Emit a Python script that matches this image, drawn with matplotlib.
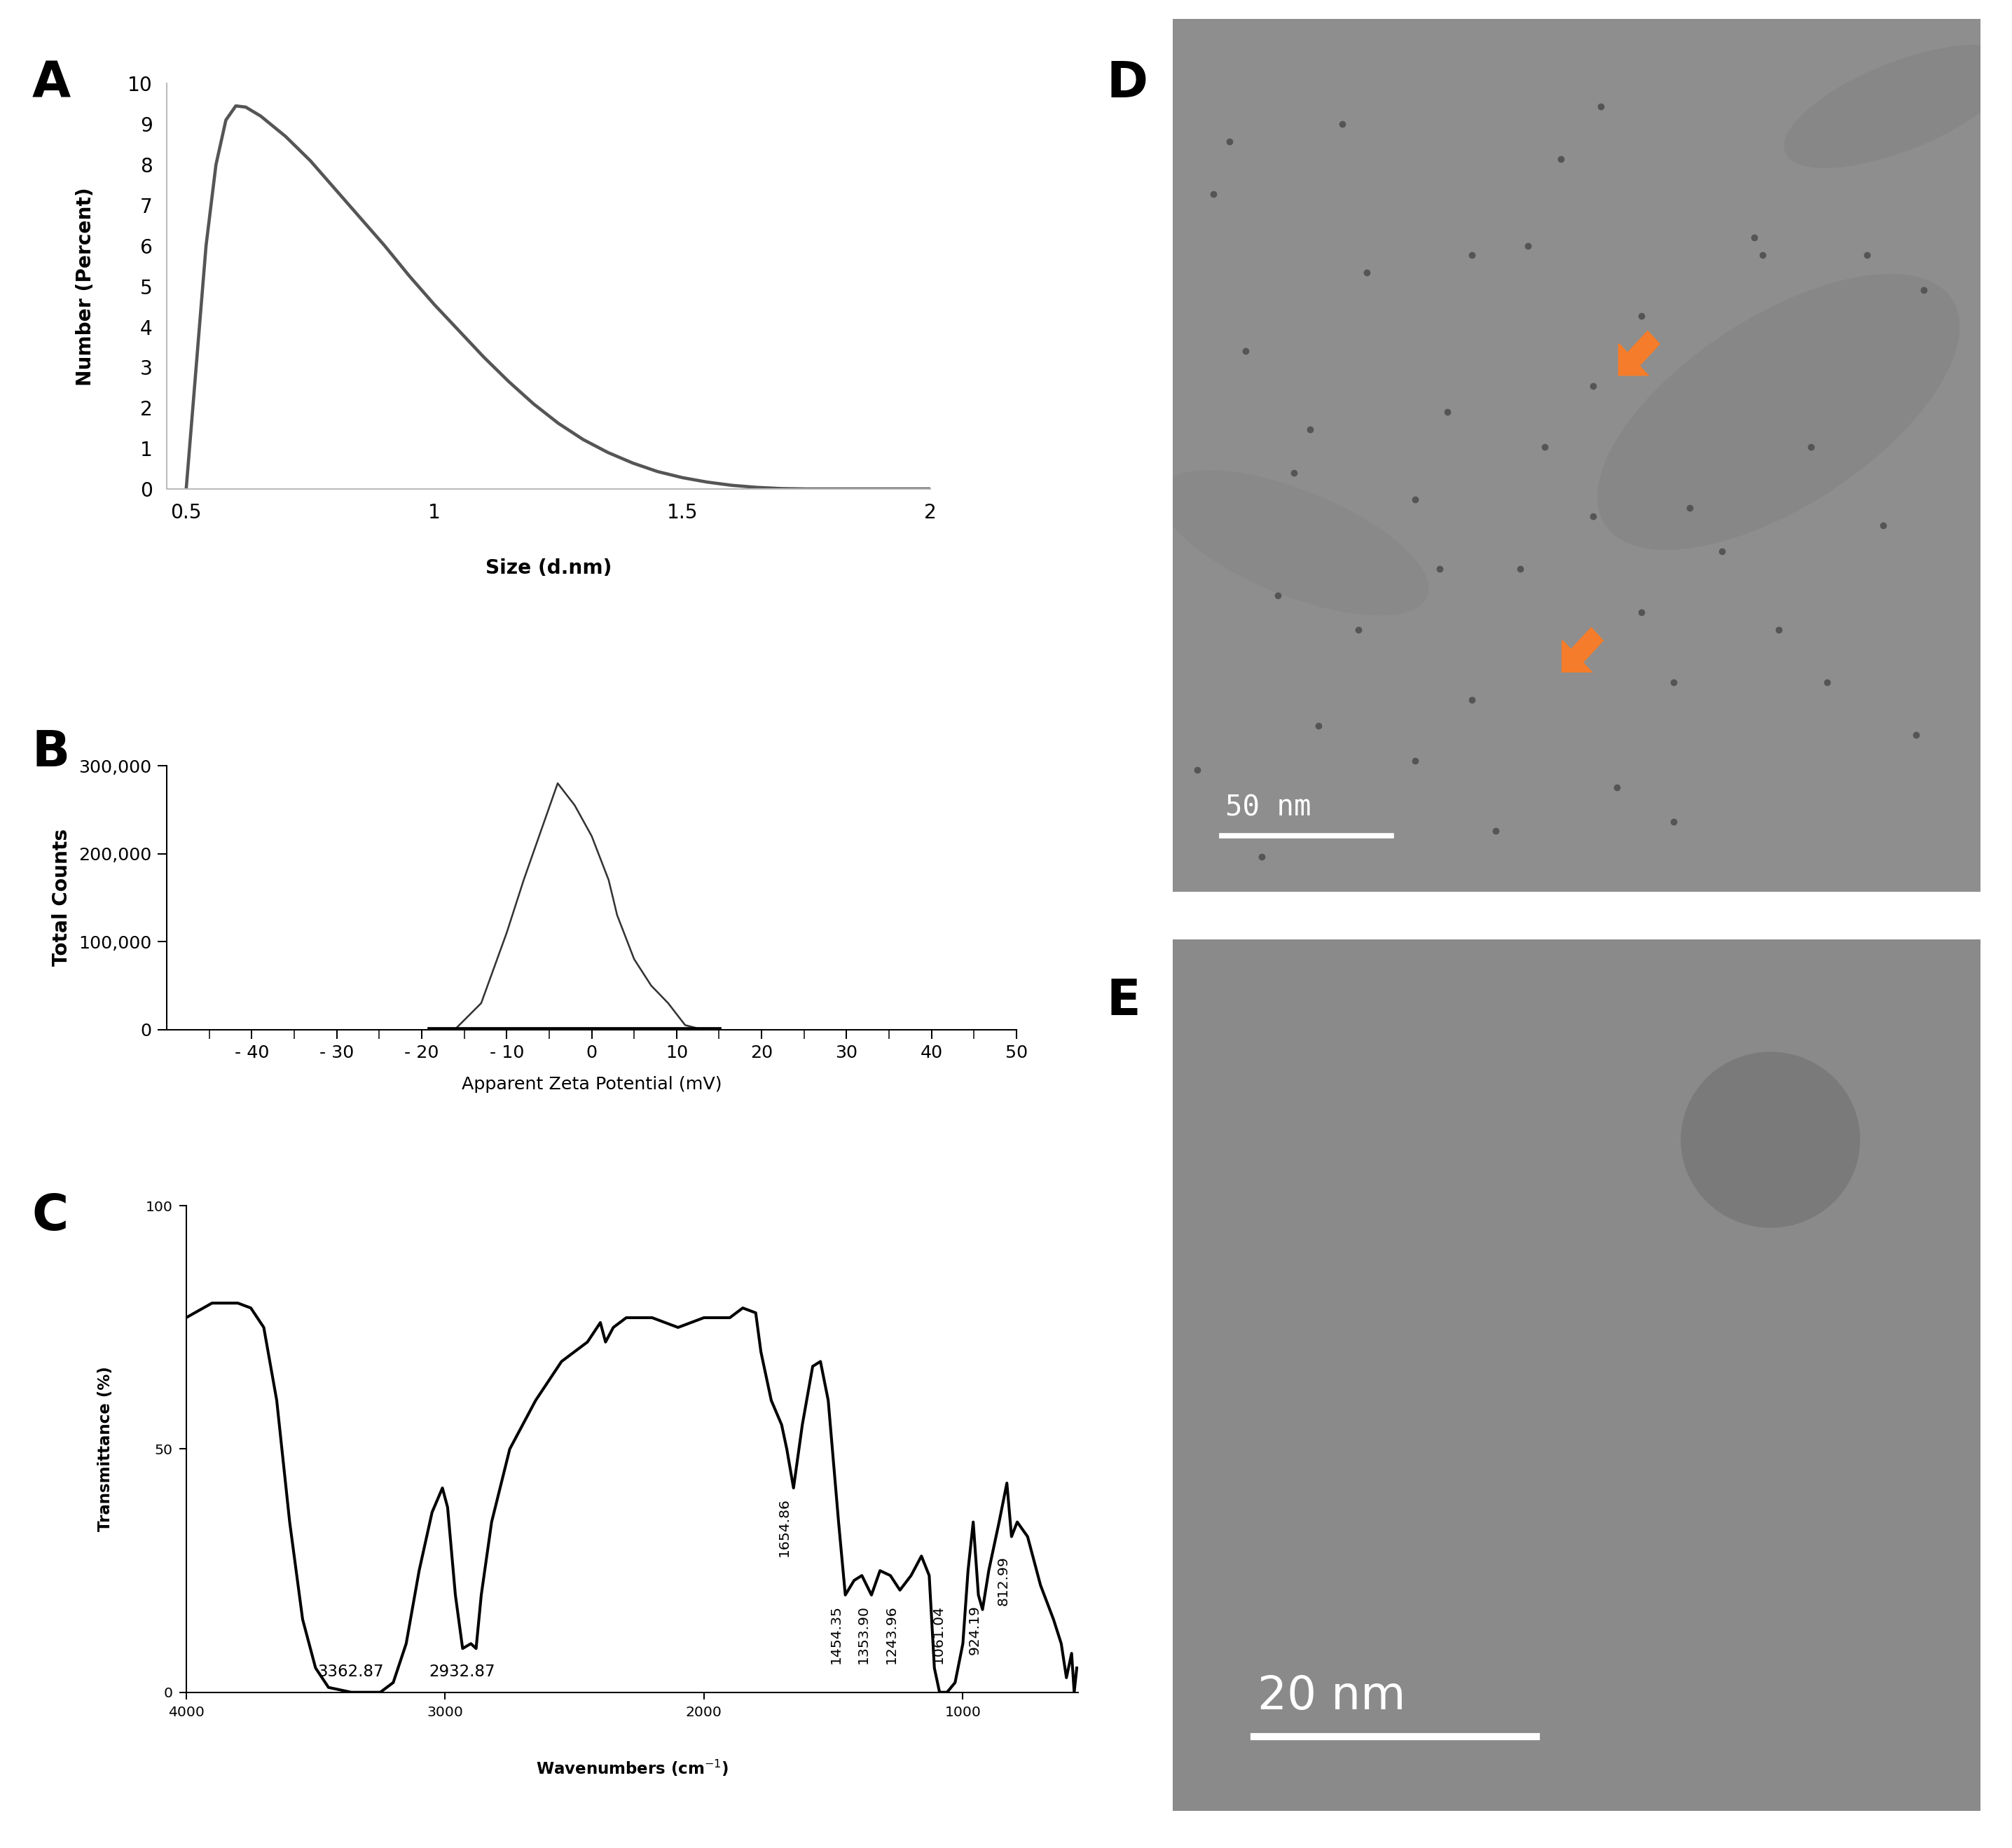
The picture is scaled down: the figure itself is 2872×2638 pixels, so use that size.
import matplotlib
matplotlib.use("Agg")
import matplotlib.pyplot as plt
from matplotlib.patches import Ellipse, FancyArrow

# Panel A: size distribution
size_nm = [0.50, 0.52, 0.54, 0.56, 0.58, 0.60, 0.62, 0.65, 0.70, 0.75, 0.80, 0.85, 0.90, 0.95, 1.00, 1.05, 1.10,
           1.15, 1.20, 1.25, 1.30, 1.35, 1.40, 1.45, 1.50, 1.55, 1.60, 1.65, 1.70, 1.75, 1.80, 2.00]
number_pct = [0.0, 3.0, 6.0, 8.0, 9.1, 9.45, 9.42, 9.2, 8.7, 8.1, 7.4, 6.7, 6.0, 5.25, 4.55, 3.9, 3.25,
              2.65, 2.1, 1.62, 1.22, 0.9, 0.64, 0.43, 0.28, 0.17, 0.09, 0.04, 0.01, 0.0, 0.0, 0.0]

# Panel B: zeta potential
zeta_mv = [-18, -16, -13, -10, -8, -6, -4, -2, 0, 2, 3, 5, 7, 9, 11, 13]
counts = [0, 1000, 30000, 110000, 170000, 225000, 280000, 255000, 220000, 170000, 130000, 80000, 50000, 30000, 5000, 0]

# Panel C: FTIR
wavenumber = [4000, 3900, 3800, 3750, 3700, 3650, 3600, 3550, 3500, 3450, 3362, 3250, 3200, 3150, 3100, 3050, 3010,
              2990, 2960, 2932, 2900, 2880, 2860, 2820, 2750, 2650, 2550, 2450, 2400, 2380, 2350, 2300, 2200, 2100,
              2000, 1900, 1850, 1800, 1780, 1740, 1700, 1680, 1654, 1620, 1580, 1550, 1520, 1480, 1454, 1420, 1390,
              1353, 1320, 1280, 1243, 1200, 1160, 1130, 1110, 1090, 1061, 1030, 1000, 980, 960, 940, 924, 900, 860,
              830, 812, 790, 750, 700, 650, 620, 600, 580, 570, 560]
transmittance = [77, 80, 80, 79, 75, 60, 35, 15, 5, 1, 0, 0, 2, 10, 25, 37, 42,
                 38, 20, 9, 10, 9, 20, 35, 50, 60, 68, 72, 76, 72, 75, 77, 77, 75,
                 77, 77, 79, 78, 70, 60, 55, 50, 42, 55, 67, 68, 60, 35, 20, 23, 24,
                 20, 25, 24, 21, 24, 28, 24, 5, 0, 0, 2, 10, 25, 35, 20, 17, 25, 35,
                 43, 32, 35, 32, 22, 15, 10, 3, 8, 0, 5]
peak_labels = ["1654.86", "1454.35", "1353.90", "1243.96", "1061.04", "924.19", "812.99"]
label_x = [1690, 1490, 1385, 1275, 1095, 955, 845]
label_top = [40, 18, 18, 18, 18, 18, 28]

# Panel D: nanoparticle dots (fractional image coords)
dots_x = [0.43, 0.37, 0.30, 0.18, 0.23, 0.33, 0.52, 0.58, 0.64, 0.79, 0.81, 0.62, 0.92, 0.17, 0.09, 0.34, 0.52, 0.46,
          0.72, 0.05, 0.07, 0.15, 0.37, 0.24, 0.44, 0.73, 0.86, 0.93, 0.62, 0.40, 0.11, 0.21, 0.48, 0.53, 0.58, 0.30,
          0.75, 0.13, 0.68, 0.88, 0.03, 0.55]
dots_y = [0.63, 0.78, 0.85, 0.81, 0.70, 0.63, 0.57, 0.68, 0.56, 0.49, 0.76, 0.76, 0.82, 0.47, 0.38, 0.45, 0.42, 0.49,
          0.25, 0.20, 0.14, 0.52, 0.27, 0.29, 0.26, 0.27, 0.27, 0.31, 0.92, 0.93, 0.96, 0.12, 0.16, 0.10, 0.34, 0.55,
          0.70, 0.66, 0.61, 0.58, 0.86, 0.88]

fig = plt.figure(figsize=(15.68, 14.40), dpi=183.2)
W, H = 1568, 1436
def ax_at(x0, y0, x1, y1):
    return fig.add_axes([x0 / W, 1 - y1 / H, (x1 - x0) / W, (y1 - y0) / H])

def letter(x, y, s):
    fig.text(x / W, 1 - y / H, s, fontsize=28, fontweight='bold', ha='left', va='center')

# A
axA = ax_at(130, 65, 725, 380)
axA.plot(size_nm, number_pct, color='#555555', lw=1.8)
axA.set_xlim(0.461, 2.0)
axA.set_ylim(0, 10)
axA.set_xticks([0.5, 1, 1.5, 2]); axA.set_xticklabels(['0.5', '1', '1.5', '2'])
axA.set_yticks(range(11))
for s in ['top', 'right']: axA.spines[s].set_visible(False)
axA.spines['left'].set_color('#bbbbbb'); axA.spines['bottom'].set_color('#bbbbbb')
axA.tick_params(length=0, labelsize=11, pad=8)
axA.set_xlabel('Size (d.nm)', fontsize=11, fontweight='bold', labelpad=20)
axA.set_ylabel('Number (Percent)', fontsize=11, fontweight='bold', labelpad=18)
letter(25, 65, 'A')

# B
axB = ax_at(130, 595, 792, 800)
axB.plot(zeta_mv, counts, color='#333333', lw=1)
axB.plot([-19, 15], [0, 0], color='black', lw=3)
axB.set_xlim(-50, 50); axB.set_ylim(0, 300000)
axB.set_xticks(range(-40, 51, 10))
axB.set_xticklabels(['- 40', '- 30', '- 20', '- 10', '0', '10', '20', '30', '40', '50'])
axB.set_xticks(range(-45, 50, 10), minor=True)
axB.set_yticks([0, 100000, 200000, 300000]); axB.set_yticklabels(['0', '100,000', '200,000', '300,000'])
for s in ['top', 'right']: axB.spines[s].set_visible(False)
axB.tick_params(labelsize=10, length=5, direction='out')
axB.tick_params(which='minor', length=5)
axB.set_xlabel('Apparent Zeta Potential (mV)', fontsize=10, labelpad=8)
axB.set_ylabel('Total Counts', fontsize=11, fontweight='bold')
letter(25, 585, 'B')

# C
axC = ax_at(145, 937, 840, 1315)
axC.plot(wavenumber, transmittance, color='black', lw=1.6)
axC.set_xlim(4000, 555); axC.set_ylim(0, 100)
axC.set_xticks([4000, 3000, 2000, 1000]); axC.set_yticks([0, 50, 100])
for s in ['top', 'right']: axC.spines[s].set_visible(False)
axC.tick_params(labelsize=8, length=4)
axC.set_xlabel('Wavenumbers (cm$^{-1}$)', fontsize=9, fontweight='bold', labelpad=22)
axC.set_ylabel('Transmittance (%)', fontsize=9, fontweight='bold', labelpad=18)
axC.text(3362.87, 2.5, '3362.87', fontsize=9, ha='center', va='bottom')
axC.text(2932.87, 2.5, '2932.87', fontsize=9, ha='center', va='bottom')
for lab, xp, yp in zip(peak_labels, label_x, label_top):
    axC.text(xp, yp, lab, fontsize=8, rotation=90, ha='center', va='top')
letter(25, 945, 'C')

# D
axD = ax_at(914, 15, 1543, 693)
axD.set_facecolor('#8e8e8e')
axD.set_xlim(0, 1); axD.set_ylim(1, 0)
axD.add_patch(Ellipse((0.75, 0.45), 0.5, 0.22, angle=-30, color='#878787'))
axD.add_patch(Ellipse((0.15, 0.6), 0.35, 0.12, angle=20, color='#898989'))
axD.add_patch(Ellipse((0.9, 0.1), 0.3, 0.1, angle=-20, color='#878787'))
axD.scatter(dots_x, dots_y, s=8, color='#555555')
axD.add_patch(FancyArrow(0.595, 0.365, -0.025, 0.025, width=0.02, head_width=0.05, head_length=0.025, color='#f57c2a'))
axD.add_patch(FancyArrow(0.525, 0.705, -0.025, 0.025, width=0.02, head_width=0.05, head_length=0.025, color='#f57c2a'))
axD.plot([0.06, 0.27], [0.936, 0.936], color='white', lw=3)
axD.text(0.065, 0.92, '50 nm', color='white', fontsize=16, family='DejaVu Sans Mono', va='bottom')
axD.set_xticks([]); axD.set_yticks([])
for s in axD.spines.values(): s.set_visible(False)
letter(862, 65, 'D')

# E
axE = ax_at(914, 730, 1543, 1407)
axE.set_facecolor('#8a8a8a')
axE.set_xlim(0, 1); axE.set_ylim(1, 0)
axE.add_patch(Ellipse((0.74, 0.23), 0.22, 0.2, color='#7a7a7a'))
axE.plot([0.10, 0.45], [0.915, 0.915], color='white', lw=4)
axE.text(0.105, 0.895, '20 nm', color='white', fontsize=26, va='bottom')
axE.set_xticks([]); axE.set_yticks([])
for s in axE.spines.values(): s.set_visible(False)
letter(862, 778, 'E')

fig.savefig('out.png', dpi=183.2, facecolor='white')
